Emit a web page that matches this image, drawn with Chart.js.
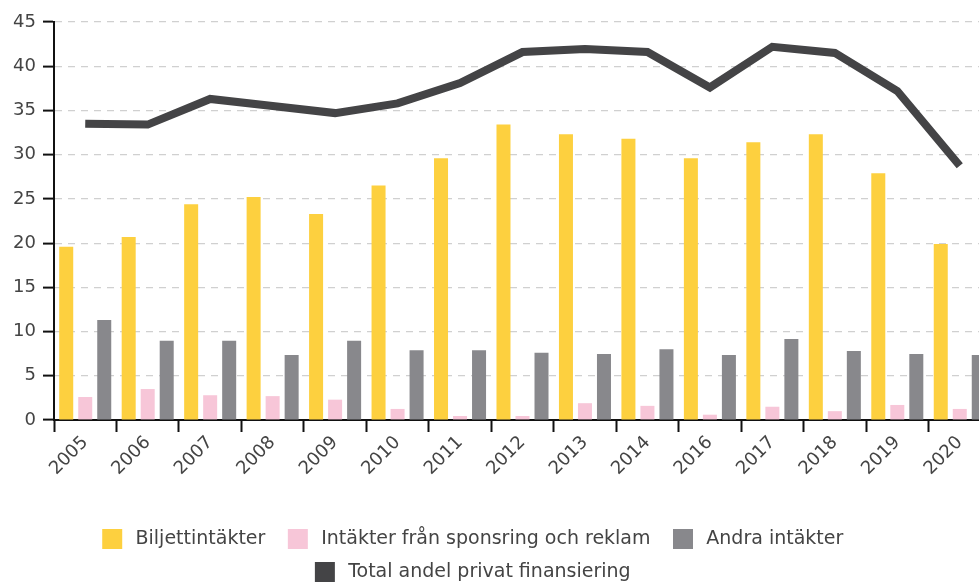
<!DOCTYPE html>
<html>
<head>
<meta charset="utf-8">
<script src="https://cdn.jsdelivr.net/npm/chart.js@4.4.0/dist/chart.umd.min.js"></script>
<style>
  html, body { margin: 0; padding: 0; background: #fff; overflow: hidden; }
  #wrap { position: relative; width: 995px; height: 592px; }
</style>
</head>
<body>
<div id="wrap"><canvas id="chart"></canvas></div>
<script>
const years = ["2005", "2006", "2007", "2008", "2009", "2010", "2011", "2012", "2013", "2014", "2016", "2017", "2018", "2019", "2020"];
const ticketIncome = [19.6, 20.7, 24.4, 25.2, 23.3, 26.5, 29.6, 33.4, 32.3, 31.8, 29.6, 31.4, 32.3, 27.9, 19.9];
const sponsorIncome = [2.6, 3.5, 2.8, 2.7, 2.3, 1.25, 0.45, 0.45, 1.9, 1.6, 0.6, 1.5, 1.0, 1.7, 1.25];
const otherIncome = [11.3, 8.95, 8.95, 7.35, 8.95, 7.9, 7.9, 7.6, 7.45, 8.0, 7.35, 9.15, 7.8, 7.45, 7.35];
const privateShare = [33.5, 33.4, 36.3, 35.5, 34.7, 35.8, 38.1, 41.6, 41.95, 41.6, 37.6, 42.2, 41.5, 37.2, 28.75];
const yTicks = [0, 5, 10, 15, 20, 25, 30, 35, 40, 45];

Chart.defaults.font.family = "'DejaVu Sans', sans-serif";
Chart.defaults.color = "#444";

// nudge the centred legend a little to the left, like the original
const legendShift = {
    id: "legendShift",
    afterLayout(chart) {
        if (chart.legend) {
            chart.legend.left -= 18;
            chart.legend.right -= 18;
        }
    }
};

const ctx = document.getElementById("chart").getContext("2d");
new Chart(ctx, {
    data: {
        labels: years,
        datasets: [
            { type: "bar", label: "Biljettintäkter", data: ticketIncome, backgroundColor: "#fdd03f" },
            { type: "bar", label: "Intäkter från sponsring och reklam", data: sponsorIncome, backgroundColor: "#f7c6d8" },
            { type: "bar", label: "Andra intäkter", data: otherIncome, backgroundColor: "#88888c" },
            {
                type: "line", label: "Total andel privat finansiering", data: privateShare,
                borderColor: "#444446", backgroundColor: "#444446", borderWidth: 8,
                pointRadius: 0, tension: 0, fill: false
            }
        ]
    },
    plugins: [legendShift],
    options: {
        responsive: true,
        maintainAspectRatio: false,
        animation: false,
        events: [],
        datasets: {
            bar: { categoryPercentage: 0.913, barPercentage: 0.737 }
        },
        layout: { padding: { top: 22, right: 4, left: 0, bottom: 0 } },
        plugins: {
            tooltip: { enabled: false },
            legend: {
                position: "bottom",
                labels: {
                    boxWidth: 20,
                    boxHeight: 20,
                    padding: 13,
                    color: "#444",
                    font: { size: 19 },
                    // thin space before the text, en space after it, for the wider gaps
                    generateLabels: chart => Chart.defaults.plugins.legend.labels.generateLabels(chart)
                        .map(item => Object.assign(item, { lineWidth: 0, text: "\u2009" + item.text + "\u2002" }))
                }
            }
        },
        scales: {
            x: {
                offset: true,
                grid: { drawOnChartArea: false, offset: true, tickLength: 12, tickColor: "#111", tickWidth: 2 },
                border: { color: "#111", width: 2 },
                ticks: { minRotation: 45, maxRotation: 45, padding: 0, color: "#444", font: { size: 18 } },
                afterFit: scale => { scale.height = 96; }
            },
            y: {
                min: 0,
                max: 45,
                afterBuildTicks: scale => { scale.ticks = yTicks.map(v => ({ value: v })); },
                grid: { color: "#d0d0d0", lineWidth: 1.2, tickColor: "#111", tickLength: 11, tickWidth: 2, tickBorderDash: [] },
                border: { color: "#111", width: 2, dash: [7, 6] },
                ticks: { padding: 7, color: "#444", font: { size: 18 } },
                afterFit: scale => { scale.width = 54; }
            }
        }
    }
});
</script>
</body>
</html>
